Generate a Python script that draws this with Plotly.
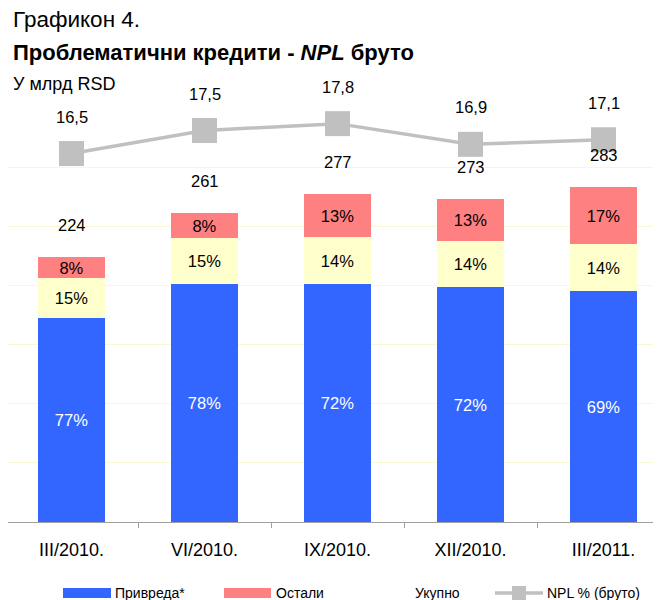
import plotly.graph_objects as go

categories = ["III/2010.", "VI/2010.", "IX/2010.", "XII/2010.", "III/2011."]
totals = [224, 261, 277, 273, 283]
share_privreda = [77, 78, 72, 72, 69]
share_stanovnistvo = [15, 15, 14, 14, 14]
share_ostali = [8, 8, 13, 13, 17]
npl_pct = [16.5, 17.5, 17.8, 16.9, 17.1]
npl_labels = ["16,5", "17,5", "17,8", "16,9", "17,1"]

BLUE = "#3366FF"
YELLOW = "#FFFFCC"
RED = "#FF8080"
GRAY = "#C0C0C0"
FONT = "Liberation Sans, Arial, sans-serif"

# the page body adds an 8px margin; lay out in page pixels and compensate
OFF = 8
W, H = 661 - OFF, 600 - OFF
L, R, T, B = 0, 0, 108 - OFF, 78
PW, PH = W - L - R, H - T - B
CAT = 133.0          # pixel width of one category
X_AXIS_START = 5     # page x of first category boundary

def px(x):
    return (x - OFF - L) / PW

def py(y):
    return (H - B - (y - OFF)) / PH

x0_cat = -0.5 + (OFF + L - X_AXIS_START) / CAT
x1_cat = x0_cat + PW / CAT

sums = [a + b + c for a, b, c in zip(share_privreda, share_stanovnistvo, share_ostali)]
v_priv = [t * s / n for t, s, n in zip(totals, share_privreda, sums)]
v_stan = [t * s / n for t, s, n in zip(totals, share_stanovnistvo, sums)]
v_ost = [t * s / n for t, s, n in zip(totals, share_ostali, sums)]

fig = go.Figure()
for vals, shares, color, tcolor, name in [
    (v_priv, share_privreda, BLUE, "white", "Привреда*"),
    (v_stan, share_stanovnistvo, YELLOW, "black", "Становништво"),
    (v_ost, share_ostali, RED, "black", "Остали"),
]:
    fig.add_trace(go.Bar(
        x=categories, y=vals, name=name, marker=dict(color=color, line=dict(width=0)),
        text=[f"{s}%" for s in shares], textposition="inside", insidetextanchor="middle",
        textangle=0, textfont=dict(family=FONT, size=16.5, color=tcolor),
        constraintext="none", cliponaxis=False,
        width=0.511, showlegend=False, hoverinfo="skip",
    ))

fig.add_trace(go.Scatter(
    x=categories, y=npl_pct, yaxis="y2", mode="lines+markers", name="NPL % (бруто)",
    line=dict(color=GRAY, width=3.5),
    marker=dict(symbol="square", size=25, color=GRAY),
    showlegend=False, hoverinfo="skip",
))

annotations = []
for c, t in zip(categories, totals):
    annotations.append(dict(x=c, y=t, xref="x", yref="y", text=str(t), showarrow=False,
                            yshift=32.5, font=dict(family=FONT, size=16.5, color="black")))
for c, v, lab in zip(categories, npl_pct, npl_labels):
    annotations.append(dict(x=c, y=v, xref="x", yref="y2", text=lab, showarrow=False,
                            yshift=37, font=dict(family=FONT, size=16.5, color="black")))

# titles
annotations += [
    dict(x=px(11), y=py(20), xref="paper", yref="paper", xanchor="left", yanchor="middle",
         text="Графикон 4.", showarrow=False, font=dict(family=FONT, size=22.5, color="black")),
    dict(x=px(11), y=py(52), xref="paper", yref="paper", xanchor="left", yanchor="middle",
         text="<b>Проблематични кредити - <i>NPL</i> бруто</b>", showarrow=False,
         font=dict(family=FONT, size=22, color="black")),
    dict(x=px(11), y=py(84), xref="paper", yref="paper", xanchor="left", yanchor="middle",
         text="У млрд RSD", showarrow=False, font=dict(family=FONT, size=18, color="black")),
]

# manual legend
LEG_Y = 593
shapes = []
legend_items = [
    ("rect", BLUE, 63, 111, "Привреда*", 113),
    ("rect", RED, 224, 271, "Остали", 274),
    (None, None, 0, 0, "Укупно", 413),
    ("line", GRAY, 495, 543, "NPL % (бруто)", 545),
]
for kind, color, a, b, label, tx in legend_items:
    if kind == "rect":
        shapes.append(dict(type="rect", xref="paper", yref="paper", x0=px(a), x1=px(b),
                           y0=py(LEG_Y + 5), y1=py(LEG_Y - 5), fillcolor=color, line=dict(width=0)))
    elif kind == "line":
        shapes.append(dict(type="line", xref="paper", yref="paper", x0=px(a), x1=px(b),
                           y0=py(LEG_Y), y1=py(LEG_Y), line=dict(color=color, width=3.5)))
        mx = (a + b) / 2
        shapes.append(dict(type="rect", xref="paper", yref="paper", x0=px(mx - 7), x1=px(mx + 7),
                           y0=py(LEG_Y + 7), y1=py(LEG_Y - 7), fillcolor=color, line=dict(width=0)))
    annotations.append(dict(x=px(tx), y=py(LEG_Y), xref="paper", yref="paper", xanchor="left",
                            yanchor="middle", text=label, showarrow=False,
                            font=dict(family=FONT, size=14, color="black")))

fig.update_layout(
    width=W, height=H, margin=dict(l=L, r=R, t=T, b=B, pad=0),
    paper_bgcolor="white", plot_bgcolor="white",
    barmode="stack",
    showlegend=False,
    uniformtext=dict(minsize=16, mode="show"),
    font=dict(family=FONT, color="black"),
    xaxis=dict(type="category", range=[x0_cat, x1_cat], tickson="boundaries",
               ticks="outside", ticklen=5, tickcolor="#A0A0A0", showline=True,
               linecolor="#A0A0A0", linewidth=1, showgrid=False,
               tickfont=dict(family=FONT, size=18, color="black"), ticklabelstandoff=11),
    yaxis=dict(range=[0, 350], dtick=50, showgrid=True, gridcolor="#FAF8D2", gridwidth=1,
               showticklabels=False, showline=False, zeroline=False, ticks=""),
    yaxis2=dict(range=[0.48, 18.48], overlaying="y", side="right", showgrid=False,
                showticklabels=False, showline=False, zeroline=False, ticks=""),
    annotations=annotations, shapes=shapes,
)

fig.write_html("out.html")
